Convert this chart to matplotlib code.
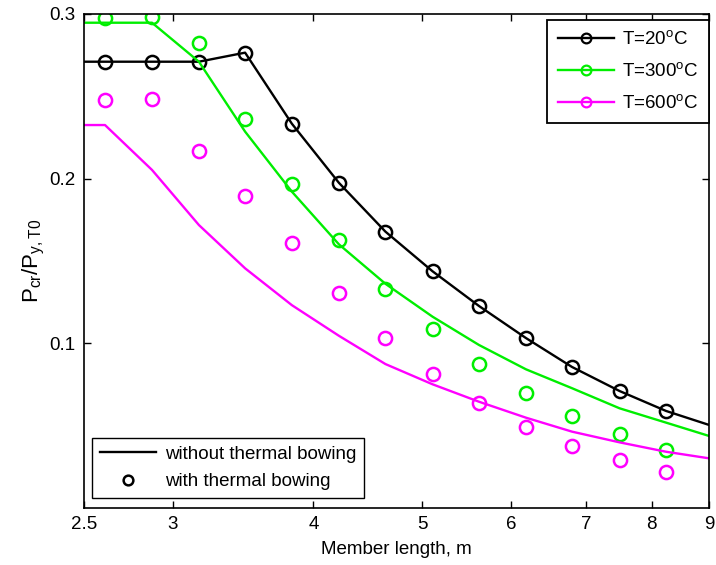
import matplotlib
matplotlib.use("Agg")
import matplotlib.pyplot as plt
from matplotlib.lines import Line2D
from matplotlib.ticker import FixedLocator, FixedFormatter, NullLocator

plt.rcParams['font.family'] = ['Liberation Sans', 'DejaVu Sans']
plt.rcParams['mathtext.fontset'] = 'custom'
plt.rcParams['mathtext.rm'] = 'Liberation Sans'
plt.rcParams['mathtext.it'] = 'Liberation Sans:italic'

# member length (m) for the curves (includes axis ends) and for the markers
x_line = [2.5, 2.61, 2.874, 3.164, 3.478, 3.828, 4.215, 4.637, 5.107, 5.617, 6.185, 6.798, 7.493, 8.241, 9.0]
x_mark = [2.61, 2.874, 3.164, 3.478, 3.828, 4.215, 4.637, 5.107, 5.617, 6.185, 6.798, 7.493, 8.241]

# without thermal bowing (lines)
line_20 = [0.271, 0.271, 0.271, 0.271, 0.2765, 0.2333, 0.1974, 0.1677, 0.1436, 0.1225, 0.1030, 0.0854, 0.0708, 0.0587, 0.0502]
line_300 = [0.2947, 0.2947, 0.2947, 0.271, 0.2285, 0.192, 0.160, 0.136, 0.116, 0.0988, 0.084, 0.0725, 0.0603, 0.0516, 0.0435]
line_600 = [0.2325, 0.2325, 0.2052, 0.1717, 0.1454, 0.123, 0.1044, 0.0872, 0.0749, 0.0643, 0.0546, 0.0461, 0.0396, 0.0339, 0.0299]

# with thermal bowing (markers)
mark_20 = [0.271, 0.271, 0.271, 0.2765, 0.2333, 0.1974, 0.1677, 0.1436, 0.1225, 0.1030, 0.0854, 0.0708, 0.0587]
mark_300 = [0.2974, 0.2984, 0.2826, 0.2362, 0.1967, 0.1626, 0.1328, 0.1084, 0.0872, 0.0698, 0.0558, 0.0445, 0.0348]
mark_600 = [0.2477, 0.2483, 0.2169, 0.1895, 0.1606, 0.1302, 0.1031, 0.0810, 0.0637, 0.0491, 0.0376, 0.0287, 0.0216]

labels = ['T=20$^{\\mathregular{o}}$C', 'T=300$^{\\mathregular{o}}$C', 'T=600$^{\\mathregular{o}}$C']
colors = ['#000000', '#00ee00', '#ff00ff']

x_ticks = [2.5, 3, 4, 5, 6, 7, 8, 9]
x_ticklabels = ['2.5', '3', '4', '5', '6', '7', '8', '9']
y_ticks = [0.1, 0.2, 0.3]
y_ticklabels = ['0.1', '0.2', '0.3']

fs = 13.5
fig = plt.figure(figsize=(7.16, 5.65), dpi=100)
ax = fig.add_axes([84/716, 1-507.5/565, (709-84)/716, (507.5-14)/565])

lw = 1.7
ms = 9.5
for yl, ym, c in zip([line_20, line_300, line_600], [mark_20, mark_300, mark_600], colors):
    ax.plot(x_line, yl, color=c, lw=lw)
    ax.plot(x_mark, ym, 'o', mfc='none', mec=c, ms=ms, mew=1.8)

ax.set_xscale('log')
ax.set_xlim(2.5, 9)
ax.set_ylim(0.0, 0.3)
ax.xaxis.set_major_locator(FixedLocator(x_ticks))
ax.xaxis.set_major_formatter(FixedFormatter(x_ticklabels))
ax.xaxis.set_minor_locator(NullLocator())
ax.yaxis.set_major_locator(FixedLocator(y_ticks))
ax.yaxis.set_major_formatter(FixedFormatter(y_ticklabels))
ax.tick_params(direction='in', top=True, right=True, length=5, width=1, labelsize=fs, pad=6)
for s in ax.spines.values():
    s.set_linewidth(1.2)

ax.set_xlabel('Member length, m', fontsize=fs, labelpad=6)
ax.set_ylabel('P$_{\\mathregular{cr}}$/P$_{\\mathregular{y,T0}}$', fontsize=16, labelpad=2)

h1 = [Line2D([], [], color=c, lw=lw, marker='o', mfc='none', mec=c, ms=7, mew=1.6) for c in colors]
leg1 = ax.legend(h1, labels, loc='upper right', bbox_to_anchor=(1.0, 0.988), fontsize=fs,
                 frameon=True, fancybox=False, edgecolor='black', framealpha=1,
                 handlelength=3.0, borderaxespad=0, borderpad=0.55, labelspacing=0.75, handletextpad=0.45)
leg1.get_frame().set_linewidth(1.3)
ax.add_artist(leg1)

h2 = [Line2D([], [], color='black', lw=lw),
      Line2D([], [], ls='none', marker='o', mfc='none', mec='black', ms=7, mew=1.8)]
leg2 = ax.legend(h2, ['without thermal bowing', 'with thermal bowing'], loc='lower left',
                 bbox_to_anchor=(0.013, 0.02), fontsize=fs, frameon=True, fancybox=False,
                 edgecolor='black', framealpha=1, handlelength=3.0, borderaxespad=0,
                 borderpad=0.4, labelspacing=0.55, handletextpad=0.5)
leg2.get_frame().set_linewidth(1.0)

fig.savefig('out.png', dpi=100)
